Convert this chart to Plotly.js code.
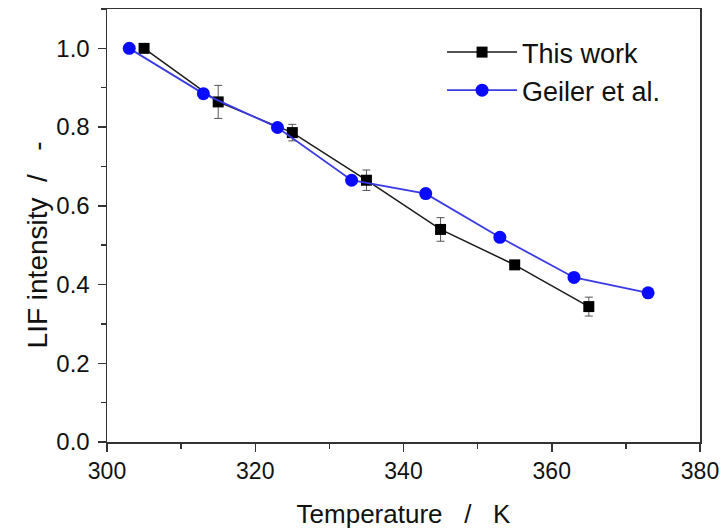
<!DOCTYPE html>
<html>
<head>
<meta charset="utf-8">
<script src="https://cdn.plot.ly/plotly-3.0.1.min.js"></script>
<style>html,body{margin:0;padding:0;background:#fff;}#chart{width:726px;height:531px;}</style>
</head>
<body>
<div id="chart"></div>
<script>
const thisWorkT = [305, 315, 325, 335, 345, 355, 365];
const thisWorkI = [1.0, 0.864, 0.786, 0.665, 0.540, 0.450, 0.344];
const thisWorkErr = [0.0, 0.042, 0.021, 0.026, 0.030, 0.008, 0.024];
const geilerT = [303, 313, 323, 333, 343, 353, 363, 373];
const geilerI = [1.0, 0.885, 0.799, 0.665, 0.631, 0.520, 0.418, 0.379];
const xTicks = [300, 320, 340, 360, 380];
const yTicks = [0.0, 0.2, 0.4, 0.6, 0.8, 1.0];

const FONT = 'Arial, "Liberation Sans", sans-serif';
const NB = '\u00a0';

const traces = [
  {
    x: thisWorkT, y: thisWorkI, name: 'This work', type: 'scatter', mode: 'lines+markers',
    legendgroup: 'a',
    line: {color: '#1a1a1a', width: 1.5},
    marker: {symbol: 'square', size: 11, color: '#000'},
    error_y: {type: 'data', array: thisWorkErr, visible: true, color: '#555', thickness: 1, width: 4}
  },
  {
    x: geilerT, y: geilerI, name: 'Geiler et al.', type: 'scatter', mode: 'lines+markers',
    legendgroup: 'b',
    line: {color: '#3a3ae6', width: 1.8},
    marker: {symbol: 'circle', size: 13, color: '#0a0aff'}
  }
];

const layout = {
  width: 726, height: 531,
  margin: {l: 107, r: 26, t: 9, b: 89},
  paper_bgcolor: '#fff', plot_bgcolor: '#fff',
  font: {family: FONT, color: '#111', size: 23},
  showlegend: true,
  legend: {
    x: 0.565, y: 0.956, xanchor: 'left', yanchor: 'top',
    bgcolor: 'rgba(0,0,0,0)', borderwidth: 0,
    font: {family: FONT, size: 27, color: '#111'},
    traceorder: 'grouped', tracegroupgap: 0, itemwidth: 70
  },
  xaxis: {
    range: [300, 380], tickvals: xTicks, ticktext: xTicks.map(String),
    ticks: 'outside', ticklen: 8, tickwidth: 1.5, tickcolor: '#333',
    minor: {dtick: 10, tick0: 300, ticks: 'outside', ticklen: 5, tickwidth: 1.5, tickcolor: '#333'},
    showline: true, linecolor: '#333', linewidth: 1.5, mirror: true,
    showgrid: false, zeroline: false,
    tickfont: {family: FONT, size: 23, color: '#111'},
    title: {text: 'Temperature' + NB + NB + NB + '/' + NB + NB + NB + 'K', font: {family: FONT, size: 26, color: '#111'}, standoff: 21}
  },
  yaxis: {
    range: [0, 1.1], tickvals: yTicks, ticktext: yTicks.map(v => v.toFixed(1)),
    ticks: 'outside', ticklen: 8, tickwidth: 1.5, tickcolor: '#333', ticklabelstandoff: 3,
    minor: {dtick: 0.1, tick0: 0, ticks: 'outside', ticklen: 5, tickwidth: 1.5, tickcolor: '#333'},
    showline: true, linecolor: '#333', linewidth: 1.5, mirror: true,
    showgrid: false, zeroline: false,
    tickfont: {family: FONT, size: 24, color: '#111'},
    title: {text: 'LIF intensity' + NB + NB + '/' + NB + NB + NB + '-' + NB.repeat(5) + '\u200b', font: {family: FONT, size: 28, color: '#111'}, standoff: 0}
  },
  xaxis2: {
    overlaying: 'x', side: 'top', range: [300, 380], tickvals: xTicks,
    showticklabels: false, ticks: 'inside', ticklen: 6, tickwidth: 1.5, tickcolor: '#333',
    minor: {dtick: 10, tick0: 300, ticks: 'inside', ticklen: 4, tickwidth: 1.5, tickcolor: '#333'},
    showgrid: false, zeroline: false, showline: false
  },
  yaxis2: {
    overlaying: 'y', side: 'right', range: [0, 1.1], tickvals: yTicks,
    showticklabels: false, ticks: 'inside', ticklen: 6, tickwidth: 1.5, tickcolor: '#333',
    minor: {dtick: 0.1, tick0: 0, ticks: 'inside', ticklen: 4, tickwidth: 1.5, tickcolor: '#333'},
    showgrid: false, zeroline: false, showline: false
  }
};

Plotly.newPlot('chart', traces, layout, {displayModeBar: false, staticPlot: true});
</script>
</body>
</html>
